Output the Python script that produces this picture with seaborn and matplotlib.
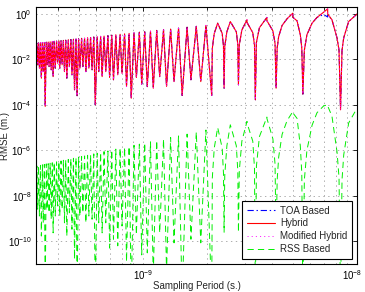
import matplotlib
matplotlib.use("Agg")
import matplotlib.pyplot as plt
import matplotlib.ticker as mticker
import matplotlib.transforms as mtransforms
import seaborn as sns

# ---- data (log10 values on the log-log axes) ----
# log10 of sampling period (s.)
ts_exp = [
    -9.500, -9.496, -9.492, -9.488, -9.484, -9.479, -9.475, -9.470, -9.466, -9.461,
    -9.457, -9.452, -9.448, -9.443, -9.439, -9.434, -9.429, -9.424, -9.420, -9.415,
    -9.410, -9.404, -9.399, -9.393, -9.389, -9.383, -9.378, -9.372, -9.367, -9.361,
    -9.356, -9.349, -9.344, -9.337, -9.332, -9.325, -9.320, -9.313, -9.308, -9.301,
    -9.295, -9.287, -9.281, -9.273, -9.267, -9.259, -9.253, -9.245, -9.238, -9.230,
    -9.223, -9.214, -9.207, -9.198, -9.191, -9.182, -9.174, -9.164, -9.156, -9.146,
    -9.138, -9.127, -9.118, -9.107, -9.098, -9.086, -9.077, -9.065, -9.055, -9.042,
    -9.031, -9.017, -9.006, -8.992, -8.980, -8.965, -8.952, -8.936, -8.922, -8.904,
    -8.890, -8.871, -8.855, -8.834, -8.817, -8.794, -8.776, -8.751, -8.730, -8.706,
    -8.679, -8.676, -8.667, -8.651, -8.630, -8.624,
    -8.621, -8.618, -8.608, -8.592, -8.564, -8.557,
    -8.554, -8.550, -8.538, -8.514, -8.514, -8.487, -8.479,
    -8.475, -8.470, -8.456, -8.421, -8.421, -8.393, -8.383,
    -8.378, -8.373, -8.366, -8.350, -8.327, -8.300, -8.300, -8.280, -8.265, -8.258,
    -8.253, -8.246, -8.234, -8.210, -8.187, -8.156, -8.137, -8.137, -8.117, -8.093, -8.084,
    -8.077, -8.070, -8.062, -8.039, -8.000,
]

# log10 of RMSE (m.) -- Hybrid
hybrid_exp = [
    -2.30, -1.29, -2.24, -1.28, -2.39, -1.27, -2.83, -1.26, -2.54, -1.26,
    -4.07, -1.25, -2.24, -1.24, -2.32, -1.23, -2.46, -1.22, -2.76, -1.21,
    -2.39, -1.20, -2.17, -1.19, -2.39, -1.18, -2.24, -1.17, -2.54, -1.16,
    -2.83, -1.14, -2.32, -1.13, -2.68, -1.12, -3.34, -1.11, -3.60, -1.10,
    -2.39, -1.08, -2.32, -1.07, -2.54, -1.05, -2.39, -1.04, -2.46, -1.02,
    -4.00, -1.01, -2.54, -0.99, -2.76, -0.98, -2.54, -0.96, -2.80, -0.94,
    -2.90, -0.92, -2.68, -0.90, -2.61, -0.88, -3.19, -0.86, -3.71, -0.84,
    -2.80, -0.81, -3.09, -0.79, -3.20, -0.76, -3.27, -0.73, -2.76, -0.70,
    -3.19, -0.67, -2.98, -0.63, -3.59, -0.59, -2.90, -0.55, -2.98, -0.51,
    -3.59, -1.51, -0.86, -0.41, -0.86, -1.41,
    -3.27, -1.44, -0.79, -0.34, -0.79, -1.34,
    -3.12, -1.36, -0.71, -0.26, -0.38, -0.83, -1.38,
    -3.78, -1.26, -0.61, -0.16, -0.30, -0.75, -1.30,
    -3.27, -1.50, -1.00, -0.51, -0.22, 0.03, -0.15, -0.31, -0.92, -1.50,
    -3.53, -1.60, -0.92, -0.41, -0.16, 0.07, 0.22, -0.01, -0.26, -1.07, -1.60,
    -4.22, -1.60, -1.05, -0.34, -0.01,
]

# TOA Based: same as Hybrid except a small stretch near the top right
toa_exp = hybrid_exp[:-16] + [
    -3.53, -1.60, -0.92, -0.41, -0.16, -0.03, -0.14, -0.05, -0.26, -1.07, -1.60,
    -4.22, -1.60, -1.05, -0.34, -0.01,
]

# Modified Hybrid: indistinguishable from Hybrid in the picture
modhyb_exp = list(hybrid_exp)

# RSS Based
rss_exp = [
    -8.71, -6.69, -8.59, -6.68, -8.89, -6.66, -9.77, -6.64, -9.19, -6.62,
    -12.5, -6.60, -8.59, -6.59, -8.75, -6.57, -9.03, -6.55, -9.63, -6.53,
    -8.89, -6.51, -8.45, -6.49, -8.89, -6.47, -8.59, -6.44, -9.19, -6.42,
    -9.77, -6.40, -8.75, -6.37, -9.47, -6.35, -10.79, -6.33, -12.5, -6.30,
    -8.89, -6.27, -8.75, -6.25, -9.19, -6.22, -8.89, -6.19, -9.03, -6.16,
    -12.5, -6.13, -9.19, -6.10, -9.63, -6.06, -9.19, -6.03, -10.3, -5.99,
    -9.91, -5.95, -10.2, -5.91, -9.33, -5.87, -10.9, -5.83, -12.5, -5.78,
    -9.71, -5.73, -10.6, -5.68, -10.51, -5.63, -11.5, -5.57, -9.63, -5.51,
    -11.3, -5.44, -10.07, -5.37, -12.5, -5.29, -9.91, -5.20, -10.07, -5.11,
    -12.5, -7.2, -5.9, -5.00, -5.9, -7.0,
    -9.6, -7.1, -5.8, -4.88, -5.8, -6.9,
    -9.6, -6.9, -5.6, -4.73, -4.8, -5.6, -6.8,
    -12.5, -6.7, -5.4, -4.54, -4.6, -5.5, -6.6,
    -10.0, -7.3, -6.3, -5.3, -4.7, -4.3, -4.35, -4.6, -5.8, -7.0,
    -12.5, -7.3, -6.0, -4.9, -4.35, -4.05, -4.0, -4.05, -4.5, -6.1, -7.2,
    -12.5, -7.3, -6.2, -4.8, -4.15,
]

series_labels = ["TOA Based", "Hybrid", "Modified Hybrid", "RSS Based"]
x_ticks = [1e-9, 1e-8]
y_ticks = [1e-10, 1e-8, 1e-6, 1e-4, 1e-2, 1e0]

# ---- styling ----
sns.set_style("white")
plt.rcParams["font.family"] = ["Liberation Sans", "DejaVu Sans"]
plt.rcParams["mathtext.fontset"] = "custom"
plt.rcParams["mathtext.rm"] = "Liberation Sans"
plt.rcParams["mathtext.it"] = "Liberation Sans:italic"
plt.rcParams["mathtext.bf"] = "Liberation Sans:bold"
plt.rcParams["lines.scale_dashes"] = False

fig = plt.figure(figsize=(3.65, 2.92), dpi=100)
ax = fig.add_axes([36 / 365, 1 - 264 / 292, (357 - 36) / 365, (264 - 7) / 292])

ts = [10 ** v for v in ts_exp]
styles = [
    (toa_exp, "#0000ff", (0, (4.5, 2, 1, 2)), 0.8),
    (hybrid_exp, "#ff0000", "-", 0.8),
    (modhyb_exp, "#ff00ff", (0, (0.8, 2.2)), 0.6),
    (rss_exp, "#00ee00", (0, (4.5, 3)), 0.7),
]
for (vals, col, ls, lw), lab in zip(styles, series_labels):
    sns.lineplot(x=ts, y=[10 ** v for v in vals], ax=ax, color=col, linestyle=ls,
                 linewidth=lw, estimator=None, sort=False, label=lab)

ax.set_xscale("log")
ax.set_yscale("log")
ax.set_xlim(10 ** -9.5, 1e-8)
ax.set_ylim(1e-11, 10 ** 0.3)

ax.xaxis.set_major_locator(mticker.FixedLocator(x_ticks))
ax.xaxis.set_minor_locator(mticker.LogLocator(base=10, subs=[2, 3, 4, 5, 6, 7, 8, 9]))
ax.xaxis.set_minor_formatter(mticker.NullFormatter())
ax.yaxis.set_major_locator(mticker.FixedLocator(y_ticks))
ax.yaxis.set_major_formatter(mticker.LogFormatterSciNotation())
ax.xaxis.set_major_formatter(mticker.LogFormatterSciNotation())
ax.yaxis.set_minor_locator(mticker.NullLocator())

grid_kw = dict(color="#a0a0a0", linestyle=(0, (1, 2.5)), linewidth=0.6)
ax.grid(True, which="both", axis="x", **grid_kw)
ax.grid(True, which="major", axis="y", **grid_kw)

ax.tick_params(which="both", direction="in", top=True, right=True,
               length=3, width=0.6, labelsize=7, pad=3, colors="black")
ax.tick_params(which="minor", length=2)
for s in ax.spines.values():
    s.set_color("black")
    s.set_linewidth(0.8)

# keep the right-most tick label inside the figure
last_tick = ax.xaxis.get_major_ticks()[-1]
last_tick.label1.set_transform(
    last_tick.label1.get_transform()
    + mtransforms.ScaledTranslation(-0.05, 0, fig.dpi_scale_trans))

ax.set_xlabel("Sampling Period (s.)", fontsize=7)
ax.xaxis.set_label_coords(0.5, -0.065)
ax.set_ylabel("RMSE (m.)", fontsize=7)
ax.yaxis.set_label_coords(-0.08, 0.5)

leg = ax.legend(loc="lower right", fontsize=7, frameon=True, fancybox=False,
                framealpha=1, edgecolor="black", handlelength=2.9,
                handletextpad=0.5, labelspacing=0.3, borderpad=0.5,
                borderaxespad=0.5)
leg.get_frame().set_linewidth(0.8)

fig.savefig("out.png", dpi=100)
